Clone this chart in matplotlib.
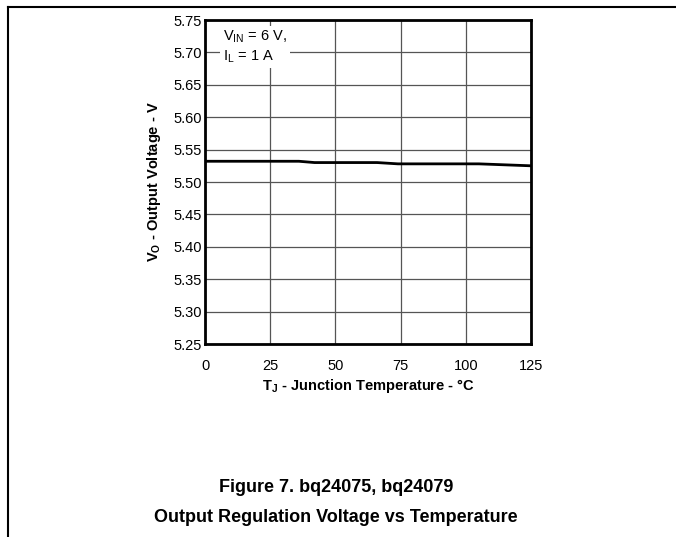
import matplotlib.pyplot as plt
from matplotlib.lines import Line2D

plt.rcParams['font.family'] = ['Liberation Sans', 'DejaVu Sans']

# junction temperature (C) and output voltage (V)
temp = [0, 36, 42, 66, 74, 105, 125]
vout = [5.532, 5.532, 5.530, 5.530, 5.528, 5.528, 5.525]

x_ticks = [0, 25, 50, 75, 100, 125]
y_ticks = [5.25, 5.30, 5.35, 5.40, 5.45, 5.50, 5.55, 5.60, 5.65, 5.70, 5.75]

fig = plt.figure(figsize=(6.76, 5.37), dpi=100)
ax = fig.add_axes([205 / 676, 1 - 344 / 537, 326 / 676, 324 / 537])

ax.plot(temp, vout, color='black', linewidth=2, zorder=3)

ax.set_xlim(0, 125)
ax.set_ylim(5.25, 5.75)
ax.set_xticks(x_ticks)
ax.set_yticks(y_ticks)
ax.set_yticklabels(['%.2f' % v for v in y_ticks])
ax.tick_params(length=0, labelsize=10.5)
ax.tick_params(axis='x', pad=11)
ax.tick_params(axis='y', pad=2)
ax.grid(True, color='#555555', linewidth=0.9)
for s in ax.spines.values():
    s.set_linewidth(2)

ax.set_xlabel(r'T$_\mathregular{J}$ - Junction Temperature - °C', fontsize=10.5, fontweight='bold', labelpad=3)
ax.set_ylabel(r'V$_\mathregular{O}$ - Output Voltage - V', fontsize=10.5, fontweight='bold', labelpad=8)

# condition note with white background over the grid
ax.text(7, 5.737, r'V$_\mathregular{IN}$ = 6 V,' + '\n' + r'I$_\mathregular{L}$ = 1 A', fontsize=10.5,
        va='top', ha='left', linespacing=1.25,
        bbox=dict(facecolor='white', edgecolor='none', pad=2), zorder=4)

# page frame
fig.add_artist(Line2D([8 / 676, 1], [1 - 7 / 537, 1 - 7 / 537], color='black', linewidth=1.5))
fig.add_artist(Line2D([8 / 676, 8 / 676], [0, 1 - 7 / 537], color='black', linewidth=1.5))

fig.text(336 / 676, 1 - 487 / 537, 'Figure 7. bq24075, bq24079', fontsize=13, fontweight='bold',
         ha='center', va='center')
fig.text(336 / 676, 1 - 518 / 537, 'Output Regulation Voltage vs Temperature', fontsize=13,
         fontweight='bold', ha='center', va='center')

fig.savefig('out.png', dpi=100)
